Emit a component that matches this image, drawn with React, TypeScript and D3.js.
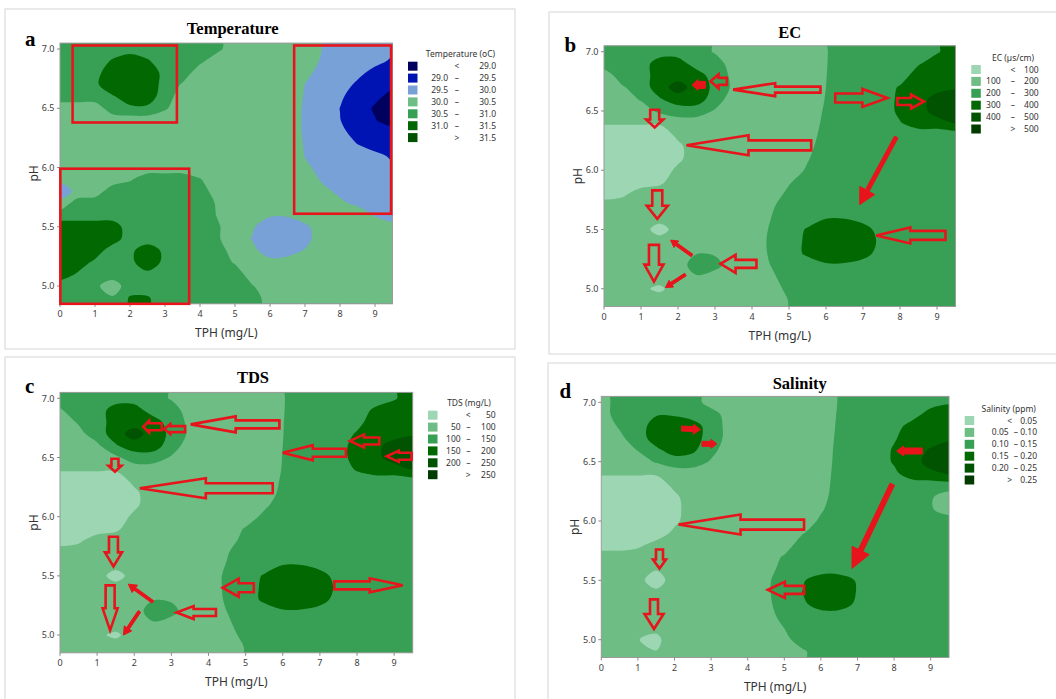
import React, { useMemo } from 'react';
import * as d3 from 'd3';

// ---------- axes / grid definition ----------
const TPH_TICKS = [0, 1, 2, 3, 4, 5, 6, 7, 8, 9];
const PH_TICKS = [5.0, 5.5, 6.0, 6.5, 7.0];
const TPH_DOMAIN = [0, 9.5];
const PH_DOMAIN = [4.85, 7.05];
const GRID_TPH = [0, 0.5, 1, 1.5, 2, 2.5, 3, 3.5, 4, 4.5, 5, 5.5, 6, 6.5, 7, 7.5, 8, 8.5, 9, 9.5];
const GRID_PH = [7.0, 6.9, 6.8, 6.7, 6.6, 6.5, 6.4, 6.3, 6.2, 6.1, 6.0, 5.9, 5.8, 5.7, 5.6, 5.5, 5.4, 5.3, 5.2, 5.1, 5.0, 4.9];

// ---------- legend classes ----------
const TEMP_BREAKS = [29.0, 29.5, 30.0, 30.5, 31.0, 31.5];
const EC_BREAKS = [100, 200, 300, 400, 500];
const TDS_BREAKS = [50, 100, 150, 200, 250];
const SAL_BREAKS = [0.05, 0.1, 0.15, 0.2, 0.25];

// ---------- surfaces (class level per grid cell; rows = GRID_PH, cols = GRID_TPH) ----------
const TEMP_GRID = [
  [4,4,4,4,4,4,4,4,4,3.7,3,3,3,3,3.2,2.47,2.0,1.8,1.7,1.65],
  [4,4,4,4.6,5.2,4.6,4,4,3.7,3,3,3,3,3.2,2.93,2.39,2.15,1.9,1.66,1.42],
  [4,4,4.1,5.2,5.4,5.1,4.2,4,3,3,3,3,3,3.2,2.68,2.26,1.95,1.64,1.33,1.03],
  [4,4,4.3,5.2,5.45,5.2,4.1,3.4,3,3,3,3,3,3.2,2.49,2.12,1.76,1.4,1.05,0.7],
  [4,4,4,4.4,5,5,4,3,3,3,3,3,3,3.14,2.42,2.01,1.61,1.16,0.7,0.24],
  [3,3,3,4,4.3,4.3,3.6,3,3,3,3,3,3,3.05,2.37,1.93,1.49,0.94,0.39,0],
  [3,3,3,3,3,3,3,3,3,3,3,3,3,3.04,2.36,1.94,1.52,1.04,0.55,0.06],
  [3,3,3,3,3,3,3,3,3,3,3,3,3,3.03,2.37,2.0,1.63,1.3,1.05,0.9],
  [3,3,3,3,3,3,3,3,3,3,3,3,3,3.09,2.42,2.11,1.81,1.49,1.25,1.05],
  [3,3,3,3,3,3,3,3,3,3,3,3,3,3.19,2.47,2.26,2.05,1.84,1.63,1.42],
  [3,3,3,3,3,3,3,3,3,3,3,3,3,3.2,2.63,2.29,2.04,1.79,1.6,1.6],
  [2.7,3,3,3,3.4,4,4,4,3.55,3,3,3,3,3.2,2.95,2.39,2.14,1.89,1.7,1.7],
  [2,2.75,3,4,4,4,4,4,4,3,3,3,3,3,3.2,2.71,2.32,2.07,1.9,1.85],
  [2.75,4,4,4,4,4,4,4,4,3.4,3,3,3,3,3,3.2,2.66,2.3,2.05,1.9],
  [4,4,4,4,4,4,4,4,4,3.45,3,3,2.6,2.6,3,3,3.2,3.04,2.42,2.2],
  [5,5,5,5,4,4,4,4,4,3.6,3,2.6,2,2,2.3,3,3,3.2,3,2.7],
  [5,5,5,5,4,4,4,4,4,3.6,3,2.45,2,2,2.2,3,3,3,3,3],
  [5,5,5,4,4.3,5,4.3,4,4,4,3,2.7,2.1,2.2,2.55,3,3,3,3,3],
  [5,5,4.3,4,4.3,5,4.3,4,4,4,3.4,3,2.75,2.8,3,3,3,3,3,3],
  [5,4.4,4,4,4,4.3,4,4,4,4,4,3,3,3,3,3,3,3,3,3],
  [4,4,3.7,3,4,4,4,4,4,4,4,3.55,3,3,3,3,3,3,3,3],
  [4,4,4,3.6,4.6,4.6,4,4,4,4,4,4,3,3,3,3,3,3,3,3],
];

const EC_GRID = [
  [2,2,2,2,2,2,1.4,1,1,1,1,1,1.444,2,2,2,2,2,2.4,3],
  [2,2,2,3,3,2,2,1,1,1,1,1,1.457,2,2,2,2,2.4,3,3],
  [1,2,2,3,3,3,2,1.3,1,1,1,1,1.479,2,2,2,2,3,3,3],
  [1,1.4,2,3,4,3,2.3,1.3,1,1,1,1,1.5,2,2,2,2.6,3,3,3.4],
  [1,1,1.6,2.4,3,3,2,1,1,1,1,1,1.543,2,2,2,2.7,3,4,4],
  [1,1,1,1.7,2,2,1.4,1,1,1,1,1,1.625,2,2,2,2.7,3,4,4],
  [0.6,0.6,0.6,0.6,1,1,1,1,1,1,1,1,1.735,2,2,2,2.45,3,3,3.6],
  [0,0,0,0,0.7,1,1,1,1,1,1,1,1.926,2,2,2,2,2,2,2],
  [0,0,0,0,0.3,1,1,1,1,1,1,1.22,2,2,2,2,2,2,2,2],
  [0,0,0,0,0.3,1,1,1,1,1,1,1.43,2,2,2,2,2,2,2,2],
  [0,0,0,0,0.7,1,1,1,1,1,1,1.625,2,2,2,2,2,2,2,2],
  [0,0,0,0.3,1,1,1,1,1,1,1.405,2,2,2,2,2,2,2,2,2],
  [0,0.3,1,1,1,1,1,1,1,1,1.735,2,2,2,2,2,2,2,2,2],
  [1,1,1,1,1,1,1,1,1,1.324,2,2,2,2,2,2,2,2,2,2],
  [1,1,1,1,1,1,1,1,1,1.48,2,2,2.45,2.45,2,2,2,2,2,2],
  [1,1,1,0,1,1,1,1,1,1.58,2,2.6,3,3,3,2,2,2,2,2],
  [1,1,1,1,1,1,1,1,1,1.64,2,2.7,3,3,3,2.3,2,2,2,2],
  [1,1,1,1,1,1.45,1.4,1,1,1.61,2,2.7,3,3,3,2,2,2,2,2],
  [1,1,1,1,1,2,1.8,1,1,1.51,2,2,2.4,2.4,2,2,2,2,2,2],
  [1,1,1,1,1,1.4,1.1,1,1,1.265,2,2,2,2,2,2,2,2,2,2],
  [1,1,0.7,0.3,1,1,1,1,1,1,1.78,2,2,2,2,2,2,2,2,2],
  [1,1,1,1,1,1,1,1,1,1,1.53,2,2,2,2,2,2,2,2,2],
];

const TDS_GRID = [
  [2,2,2,2,2,2,1.4,1,1,1,1,1,1.432,2,2,2,2,2,2.4,3],
  [1.4,2,2,3,3,2,2,1,1,1,1,1,1.444,2,2,2,2,2.7,3,3],
  [1,1.6,2,3,3,3,2,1.3,1,1,1,1,1.468,2,2,2,2.2,3,3,3],
  [1,1.2,2,3,4,3,2.3,1.3,1,1,1,1,1.479,2,2,2,2.6,3,3,3.4],
  [1,1,1.3,2.4,3,3,2,1,1,1,1,1,1.5,2,2,2,3,3.2,4,4],
  [1,1,1,1.3,2,2,1.4,1,1,1,1,1,1.521,2,2,2,3,3.2,4,4],
  [0.6,0.6,0.6,0.6,1,1,1,1,1,1,1,1,1.543,2,2,2,2.6,3,3,3.6],
  [0,0,0,0,0.7,1,1,1,1,1,1,1,1.625,2,2,2,2,2,2,2],
  [0,0,0,0,0.3,1,1,1,1,1,1,1,1.758,2,2,2,2,2,2,2],
  [0,0,0,0,0.3,1,1,1,1,1,1,1.286,2,2,2,2,2,2,2,2],
  [0,0,0,0,0.7,1,1,1,1,1,1,1.735,2,2,2,2,2,2,2,2],
  [0,0,0,0.3,1,1,1,1,1,1,1.577,2,2,2,2,2,2,2,2,2],
  [0,0.3,1,1,1,1,1,1,1,1,1.9,2,2,2,2,2,2,2,2,2],
  [1,1,1,1,1,1,1,1,1,1.432,2,2,2,2,2,2,2,2,2,2],
  [1,1,1,1,1,1,1,1,1,1.543,2,2,2.45,2.45,2,2,2,2,2,2],
  [1,1,1,0,1,1,1,1,1,1.694,2,2.6,3,3,3,2,2,2,2,2],
  [1,1,1,1,1,1,1,1,1,1.694,2,2.7,3,3,3,2.3,2,2,2,2],
  [1,1,1,1,1,1.45,1.4,1,1,1.64,2,2.7,3,3,3,2,2,2,2,2],
  [1,1,1,1,1,2,1.8,1,1,1.51,2,2,2.4,2.4,2,2,2,2,2,2],
  [1,1,1,1,1,1.4,1.1,1,1,1.324,2,2,2,2,2,2,2,2,2,2],
  [1,1,0.7,0.3,1,1,1,1,1,1,1.9,2,2,2,2,2,2,2,2,2],
  [1,1,1,1,1,1,1,1,1,1,1.556,2,2,2,2,2,2,2,2,2],
];

const SAL_GRID = [
  [1,2,2,2,2,2,1,1,1,1,1,1,1,1.556,2,2,2,2,2,2.4],
  [1,2,2,2.4,2.4,2,2,1,1,1,1,1,1,1.6,2,2,2,2,3,3],
  [1,1.6,2,3,3,3,2,1.2,1,1,1,1,1,1.64,2,2,2,3,3,3],
  [1,1.3,2,3,3,3,2,1.2,1,1,1,1,1,1.694,2,2,2.4,3,3,3.3],
  [1,1,1.55,2.3,3,2.7,1.8,1,1,1,1,1,1,1.758,2,2,2.6,3,3.6,4],
  [1,1,1,1.6,2,2,1.4,1,1,1,1,1,1,1.806,2,2,2.6,3,4,4],
  [0.6,0.6,0.6,0.6,1,1,1,1,1,1,1,1,1,1.893,2,2,2.3,3,3.2,3.6],
  [0,0,0,0,0.7,1,1,1,1,1,1,1,1,2,2,2,2,2,2,2],
  [0,0,0,0,0.3,1,1,1,1,1,1,1,1.167,2,2,2,2,2,1.6,1],
  [0,0,0,0,0.2,1,1,1,1,1,1,1,1.39,2,2,2,2,2,1.6,1],
  [0,0,0,0,0.3,1,1,1,1,1,1,1,1.658,2,2,2,2,2,2,2],
  [0,0,0,0,0.7,1,1,1,1,1,1,1.432,2,2,2,2,2,2,2,2],
  [0,0,0.3,0.8,1,1,1,1,1,1,1,2,2,2,2,2,2,2,2,2],
  [1,1,1,1,1,1,1,1,1,1,1.6,2,2,2,2,2,2,2,2,2],
  [1,1,1,0.6,1,1,1,1,1,1,1.9,2,2,2,2,2,2,2,2,2],
  [1,1,0.8,0,1,1,1,1,1,1.306,2,2.4,3,3,2.4,2,2,2,2,2],
  [1,1,1,0.7,1,1,1,1,1,1.324,2,2.52,3,3,2.45,2,2,2,2,2],
  [1,1,1,1,1,1,1,1,1,1.242,2,2.3,3,3,2.3,2,2,2,2,2],
  [1,1,1,1,1,1,1,1,1,1,1.9,2,2,2,2,2,2,2,2,2],
  [1,1,1,0.7,1,1,1,1,1,1,1.51,2,2,2,2,2,2,2,2,2],
  [1,1,0.52,0.3,1,1,1,1,1,1,1.194,2,2,2,2,2,2,2,2,2],
  [1,1,1,0.52,1,1,1,1,1,1,1,1.342,2,2,2,2,2,2,2,2],
];

// ---------- annotations (data coordinates: [TPH, pH]) ----------
const BOXES_A = [
  { from: [0.36, 6.38], to: [3.34, 7.03] },
  { from: [0.01, 4.85], to: [3.69, 5.99] },
  { from: [6.69, 5.61], to: [9.46, 7.03] },
];

const ARROWS_B = [
  { tail: [2.74, 6.72], tip: [2.38, 6.72], shaft: 7, head: 11, len: 6, solid: true },
  { tail: [3.32, 6.75], tip: [2.88, 6.75], shaft: 7, head: 14, len: 8, solid: false },
  { tail: [5.85, 6.68], tip: [3.49, 6.68], shaft: 6, head: 13, len: 42, solid: false },
  { tail: [6.25, 6.61], tip: [7.66, 6.61], shaft: 9, head: 18, len: 25, solid: false },
  { tail: [7.93, 6.58], tip: [8.65, 6.58], shaft: 7, head: 14, len: 13, solid: false },
  { tail: [1.37, 6.51], tip: [1.37, 6.36], shaft: 9, head: 17, len: 8, solid: false },
  { tail: [5.6, 6.21], tip: [2.23, 6.21], shaft: 10, head: 20, len: 62, solid: false },
  { tail: [7.9, 6.28], tip: [6.91, 5.71], shaft: 4, head: 17, len: 16, solid: true },
  { tail: [1.44, 5.83], tip: [1.44, 5.59], shaft: 10, head: 21, len: 13, solid: false },
  { tail: [9.23, 5.45], tip: [7.36, 5.45], shaft: 9, head: 16, len: 34, solid: false },
  { tail: [1.35, 5.37], tip: [1.35, 5.06], shaft: 10, head: 19, len: 17, solid: false },
  { tail: [2.38, 5.28], tip: [1.8, 5.41], shaft: 3, head: 8, len: 7, solid: true },
  { tail: [2.2, 5.12], tip: [1.66, 5.01], shaft: 3, head: 8, len: 7, solid: true },
  { tail: [4.12, 5.21], tip: [3.15, 5.21], shaft: 8, head: 18, len: 15, solid: false },
];

const ARROWS_C = [
  { tail: [2.74, 6.76], tip: [2.24, 6.76], shaft: 7, head: 12, len: 6, solid: false },
  { tail: [3.37, 6.74], tip: [2.81, 6.74], shaft: 6, head: 10, len: 6, solid: false },
  { tail: [5.91, 6.78], tip: [3.52, 6.78], shaft: 8, head: 16, len: 45, solid: false },
  { tail: [8.6, 6.64], tip: [7.81, 6.64], shaft: 7, head: 13, len: 14, solid: false },
  { tail: [9.47, 6.51], tip: [8.8, 6.51], shaft: 7, head: 11, len: 12, solid: false },
  { tail: [7.7, 6.54], tip: [6.0, 6.54], shaft: 8, head: 15, len: 30, solid: false },
  { tail: [1.48, 6.49], tip: [1.48, 6.38], shaft: 7, head: 13, len: 6, solid: false },
  { tail: [5.73, 6.24], tip: [2.15, 6.24], shaft: 10, head: 20, len: 66, solid: false },
  { tail: [1.44, 5.83], tip: [1.44, 5.58], shaft: 9, head: 17, len: 14, solid: false },
  { tail: [5.22, 5.4], tip: [4.38, 5.4], shaft: 9, head: 18, len: 16, solid: false },
  { tail: [7.39, 5.42], tip: [9.23, 5.42], shaft: 8, head: 14, len: 33, solid: false },
  { tail: [1.35, 5.42], tip: [1.35, 5.04], shaft: 9, head: 15, len: 22, solid: false },
  { tail: [2.5, 5.28], tip: [1.84, 5.43], shaft: 3, head: 9, len: 8, solid: true },
  { tail: [2.14, 5.2], tip: [1.71, 5.0], shaft: 3, head: 9, len: 8, solid: true },
  { tail: [4.2, 5.19], tip: [3.14, 5.19], shaft: 7, head: 13, len: 17, solid: false },
];

const ARROWS_D = [
  { tail: [2.19, 6.78], tip: [2.71, 6.77], shaft: 5, head: 10, len: 7, solid: true },
  { tail: [2.75, 6.65], tip: [3.16, 6.65], shaft: 5, head: 9, len: 6, solid: true },
  { tail: [8.77, 6.59], tip: [8.07, 6.59], shaft: 6, head: 10, len: 7, solid: true },
  { tail: [7.95, 6.31], tip: [6.85, 5.6], shaft: 5, head: 19, len: 20, solid: true },
  { tail: [5.54, 5.97], tip: [2.11, 5.97], shaft: 10, head: 20, len: 62, solid: false },
  { tail: [1.59, 5.76], tip: [1.59, 5.6], shaft: 7, head: 13, len: 9, solid: false },
  { tail: [5.54, 5.42], tip: [4.55, 5.42], shaft: 8, head: 16, len: 17, solid: false },
  { tail: [1.44, 5.34], tip: [1.44, 5.09], shaft: 8, head: 19, len: 15, solid: false },
];

// ---------- styles ----------
const TEMP_COLORS = ['#00005e', '#0014b4', '#78a1d8', '#6dbd84', '#37a055', '#026902', '#015201'];
const GREEN_COLORS = ['#9cd6b2', '#6dbd84', '#37a055', '#026902', '#015201', '#003b00'];
const RED = '#e8141c';
const SANS = 'Noto Sans, Open Sans, sans-serif';
const SERIF = 'Liberation Serif, DejaVu Serif, serif';

type Arrow = { tail: number[]; tip: number[]; shaft: number; head: number; len: number; solid: boolean };

type PanelCfg = {
  id: string;
  letter: string;
  letterPos: [number, number];
  title: string;
  titlePos: [number, number];
  card: [number, number, number, number];
  plot: { x0: number; x1: number; y0: number; y1: number };
  grid: number[][];
  colors: string[];
  legendTitle: string;
  breaks: number[];
  digits: number;
  legend: { sx: number; sy: number; lowR: number; dash: number; sym: number; highR: number; tcx: number };
  arrows: Arrow[];
  boxes: { from: number[]; to: number[] }[];
};

function buildContours(grid: number[][], nLevels: number) {
  const P = 1;
  const rows = grid.length;
  const cols = grid[0].length;
  const W = cols + 2 * P;
  const H = rows + 2 * P;
  const values: number[] = new Array(W * H);
  for (let j = 0; j < H; j++) {
    for (let i = 0; i < W; i++) {
      const r = Math.min(rows - 1, Math.max(0, j - P));
      const c = Math.min(cols - 1, Math.max(0, i - P));
      values[j * W + i] = grid[r][c];
    }
  }
  const thresholds = d3.range(1, nLevels).map((k) => k - 0.5);
  return { P, polys: d3.contours().size([W, H]).thresholds(thresholds)(values) };
}

function arrowPath(t: number[], p: number[], shaft: number, head: number, len: number) {
  const dx = p[0] - t[0];
  const dy = p[1] - t[1];
  const L = Math.hypot(dx, dy);
  const ux = dx / L, uy = dy / L;
  const nx = -uy, ny = ux;
  const hl = Math.min(len, L * 0.9);
  const bx = p[0] - ux * hl, by = p[1] - uy * hl;
  const s = shaft / 2, h = head / 2;
  const pts = [
    [t[0] + nx * s, t[1] + ny * s],
    [bx + nx * s, by + ny * s],
    [bx + nx * h, by + ny * h],
    [p[0], p[1]],
    [bx - nx * h, by - ny * h],
    [bx - nx * s, by - ny * s],
    [t[0] - nx * s, t[1] - ny * s],
  ];
  return 'M' + pts.map((q) => q[0].toFixed(2) + ',' + q[1].toFixed(2)).join('L') + 'Z';
}

function Panel({ cfg }: { cfg: PanelCfg }) {
  const { plot } = cfg;
  const x = d3.scaleLinear().domain(TPH_DOMAIN).range([plot.x0, plot.x1]);
  const y = d3.scaleLinear().domain(PH_DOMAIN).range([plot.y1, plot.y0]);
  const dxg = GRID_TPH[1] - GRID_TPH[0];
  const dyg = GRID_PH[0] - GRID_PH[1];

  const bands = useMemo(() => {
    const { P, polys } = buildContours(cfg.grid, cfg.colors.length);
    const line = d3.line<[number, number]>().curve(d3.curveCatmullRomClosed.alpha(0.5));
    const toPx = (pt: number[]): [number, number] => [
      x(GRID_TPH[0] + (pt[0] - P - 0.5) * dxg),
      y(GRID_PH[0] - (pt[1] - P - 0.5) * dyg),
    ];
    return polys.map((mp, k) => ({
      color: cfg.colors[k + 1],
      d: mp.coordinates
        .map((poly) => poly.map((ring) => line(ring.slice(0, -1).map(toPx)) || '').join(''))
        .join(''),
    }));
  }, [cfg]);

  const fmt = (v: number) => v.toFixed(cfg.digits);
  const nRows = cfg.breaks.length + 1;
  const lg = cfg.legend;
  const step = 11.9;
  const lfs = 8.5;

  return (
    <g>
      <rect x={cfg.card[0]} y={cfg.card[1]} width={cfg.card[2]} height={cfg.card[3]} fill="#fff" stroke="#d6d6d6" strokeWidth={1} />
      <text x={cfg.letterPos[0]} y={cfg.letterPos[1]} fontFamily={SERIF} fontWeight="bold" fontSize={21} fill="#000">{cfg.letter}</text>
      <text x={cfg.titlePos[0]} y={cfg.titlePos[1]} fontFamily={SERIF} fontWeight="bold" fontSize={16.5} textAnchor="middle" fill="#000">{cfg.title}</text>
      <defs>
        <clipPath id={'clip-' + cfg.id}>
          <rect x={plot.x0} y={plot.y0} width={plot.x1 - plot.x0} height={plot.y1 - plot.y0} />
        </clipPath>
      </defs>
      <g clipPath={`url(#clip-${cfg.id})`}>
        <rect x={plot.x0} y={plot.y0} width={plot.x1 - plot.x0} height={plot.y1 - plot.y0} fill={cfg.colors[0]} />
        {bands.map((b, i) => (
          <path key={i} d={b.d} fill={b.color} fillRule="evenodd" stroke="none" />
        ))}
      </g>
      <rect x={plot.x0} y={plot.y0} width={plot.x1 - plot.x0} height={plot.y1 - plot.y0} fill="none" stroke="#9a9a9a" strokeWidth={1} />
      {TPH_TICKS.map((t) => (
        <g key={'x' + t}>
          <line x1={x(t)} x2={x(t)} y1={plot.y1} y2={plot.y1 + 3} stroke="#8a8a8a" />
          <text x={x(t)} y={plot.y1 + 13.5} fontFamily={SANS} fontSize={9} textAnchor="middle" fill="#404040">{t}</text>
        </g>
      ))}
      {PH_TICKS.map((t) => (
        <g key={'y' + t}>
          <line x1={plot.x0 - 3} x2={plot.x0} y1={y(t)} y2={y(t)} stroke="#8a8a8a" />
          <text x={plot.x0 - 5.5} y={y(t) + 3.2} fontFamily={SANS} fontSize={9} textAnchor="end" fill="#404040">{t.toFixed(1)}</text>
        </g>
      ))}
      <text x={(plot.x0 + plot.x1) / 2} y={plot.y1 + 33.5} fontFamily={SANS} fontSize={12} textAnchor="middle" fill="#333">TPH (mg/L)</text>
      <text transform={`translate(${plot.x0 - 27},${(plot.y0 + plot.y1) / 2}) rotate(-90)`} fontFamily={SANS} fontSize={12} textAnchor="middle" dominantBaseline="central" fill="#333">pH</text>

      {/* legend */}
      <text x={lg.sx + lg.tcx} y={lg.sy - 4.5} fontFamily={SANS} fontSize={lfs} textAnchor="middle" fill="#333">{cfg.legendTitle}</text>
      {d3.range(nRows).map((i) => {
        const yy = lg.sy + i * step;
        const ty = yy + 4.5 + 3;
        return (
          <g key={'lg' + i}>
            <rect x={lg.sx} y={yy} width={9.5} height={9} fill={cfg.colors[i]} />
            {i === 0 && (
              <>
                <text x={lg.sx + lg.sym} y={ty} fontFamily={SANS} fontSize={lfs} textAnchor="middle" fill="#333">&lt;</text>
                <text x={lg.sx + lg.highR} y={ty} fontFamily={SANS} fontSize={lfs} textAnchor="end" fill="#333">{fmt(cfg.breaks[0])}</text>
              </>
            )}
            {i === nRows - 1 && (
              <>
                <text x={lg.sx + lg.sym} y={ty} fontFamily={SANS} fontSize={lfs} textAnchor="middle" fill="#333">&gt;</text>
                <text x={lg.sx + lg.highR} y={ty} fontFamily={SANS} fontSize={lfs} textAnchor="end" fill="#333">{fmt(cfg.breaks[nRows - 2])}</text>
              </>
            )}
            {i > 0 && i < nRows - 1 && (
              <>
                <text x={lg.sx + lg.lowR} y={ty} fontFamily={SANS} fontSize={lfs} textAnchor="end" fill="#333">{fmt(cfg.breaks[i - 1])}</text>
                <text x={lg.sx + lg.dash} y={ty} fontFamily={SANS} fontSize={lfs} textAnchor="middle" fill="#333">–</text>
                <text x={lg.sx + lg.highR} y={ty} fontFamily={SANS} fontSize={lfs} textAnchor="end" fill="#333">{fmt(cfg.breaks[i])}</text>
              </>
            )}
          </g>
        );
      })}

      {/* annotations */}
      {cfg.boxes.map((b, i) => (
        <rect key={'bx' + i} x={x(b.from[0])} y={y(b.to[1])} width={x(b.to[0]) - x(b.from[0])} height={y(b.from[1]) - y(b.to[1])} fill="none" stroke={RED} strokeWidth={2.6} />
      ))}
      {cfg.arrows.map((a, i) => {
        const t = [x(a.tail[0]), y(a.tail[1])];
        const p = [x(a.tip[0]), y(a.tip[1])];
        const d = arrowPath(t, p, a.shaft, a.head, a.len);
        return a.solid ? (
          <path key={'ar' + i} d={d} fill={RED} stroke={RED} strokeWidth={1} strokeLinejoin="round" />
        ) : (
          <path key={'ar' + i} d={d} fill="none" stroke={RED} strokeWidth={2.6} strokeLinejoin="miter" />
        );
      })}
    </g>
  );
}

const PANELS: PanelCfg[] = [
  {
    id: 'a', letter: 'a', letterPos: [25, 45.5], title: 'Temperature', titlePos: [232.7, 34],
    card: [5, 9, 510, 340],
    plot: { x0: 60, x1: 392.5, y0: 43.1, y1: 303.8 },
    grid: TEMP_GRID, colors: TEMP_COLORS, legendTitle: 'Temperature (oC)', breaks: TEMP_BREAKS, digits: 1,
    legend: { sx: 408, sy: 61.7, lowR: 40, dash: 49, sym: 49, highR: 88, tcx: 52.5 },
    arrows: [], boxes: BOXES_A,
  },
  {
    id: 'b', letter: 'b', letterPos: [564.5, 51.5], title: 'EC', titlePos: [789.7, 38],
    card: [549, 12, 520, 342],
    plot: { x0: 604, x1: 955.5, y0: 45.8, y1: 306.5 },
    grid: EC_GRID, colors: GREEN_COLORS, legendTitle: 'EC (µs/cm)', breaks: EC_BREAKS, digits: 0,
    legend: { sx: 971.3, sy: 65, lowR: 29.4, dash: 41.7, sym: 41.7, highR: 67.4, tcx: 41.7 },
    arrows: ARROWS_B, boxes: [],
  },
  {
    id: 'c', letter: 'c', letterPos: [25, 392.5], title: 'TDS', titlePos: [253, 383],
    card: [5, 357, 510, 360],
    plot: { x0: 60, x1: 412.7, y0: 392.4, y1: 652.8 },
    grid: TDS_GRID, colors: GREEN_COLORS, legendTitle: 'TDS (mg/L)', breaks: TDS_BREAKS, digits: 0,
    legend: { sx: 428, sy: 410.7, lowR: 32.7, dash: 40.3, sym: 40.3, highR: 67.7, tcx: 41 },
    arrows: ARROWS_C, boxes: [],
  },
  {
    id: 'd', letter: 'd', letterPos: [559.5, 397.5], title: 'Salinity', titlePos: [799.7, 389],
    card: [548, 363, 520, 360],
    plot: { x0: 601.3, x1: 949, y0: 396.4, y1: 657.5 },
    grid: SAL_GRID, colors: GREEN_COLORS, legendTitle: 'Salinity (ppm)', breaks: SAL_BREAKS, digits: 2,
    legend: { sx: 964.7, sy: 416, lowR: 44, dash: 51.3, sym: 45, highR: 72.3, tcx: 44 },
    arrows: ARROWS_D, boxes: [],
  },
];

export default function App() {
  return (
    <svg width={1056} height={699} viewBox="0 0 1056 699" style={{ position: 'absolute', left: 0, top: 0, background: '#fff' }}>
      <rect x={0} y={0} width={1056} height={699} fill="#fff" />
      {PANELS.map((p) => (
        <Panel key={p.id} cfg={p} />
      ))}
    </svg>
  );
}
